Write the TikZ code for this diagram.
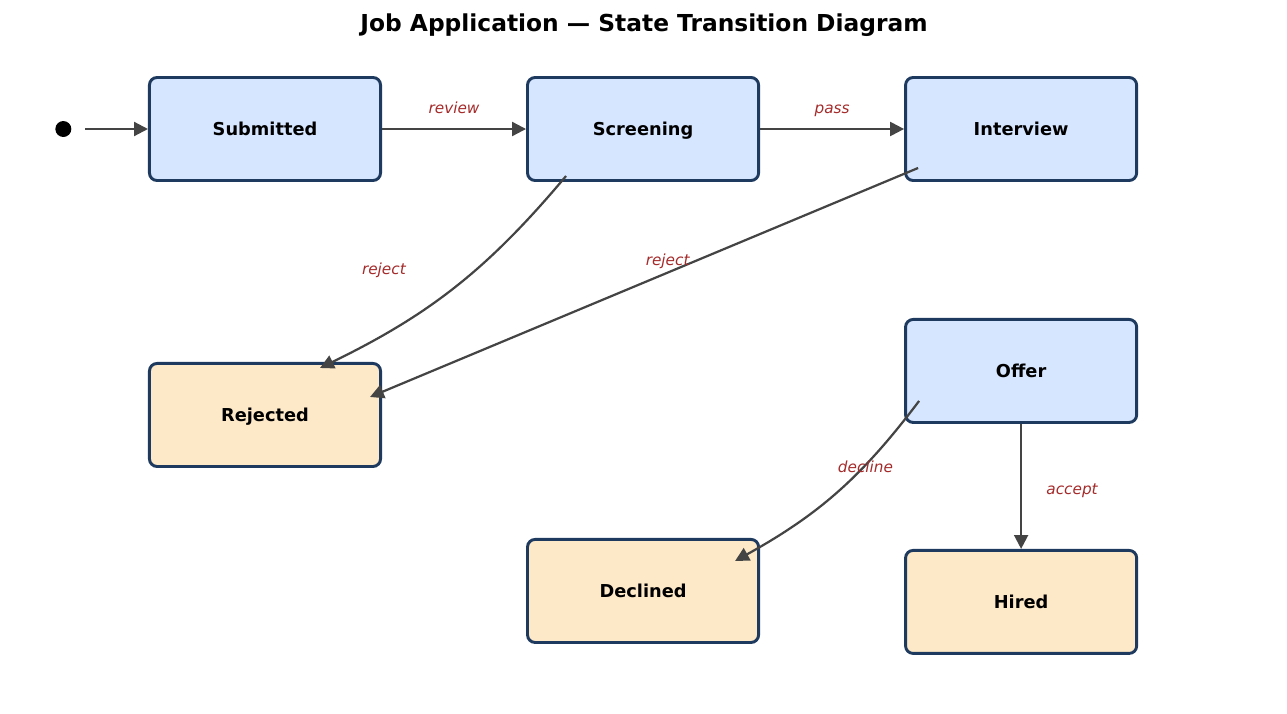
\documentclass[tikz,border=0pt]{standalone}
\usepackage{fontspec}
\setmainfont{DejaVu Sans}
\usepackage{xcolor}
\usetikzlibrary{arrows.meta,positioning,calc}
\definecolor{navy}{HTML}{1F3A5F}
\definecolor{softblue}{HTML}{D6E6FF}
\definecolor{softorange}{HTML}{FDE8C8}
\definecolor{edge}{HTML}{444444}
\definecolor{brick}{HTML}{A52A2A}

\begin{document}
\begin{tikzpicture}[
  x=0.72pt, y=-0.72pt,
  state/.style={draw=navy, line width=2.1pt, rounded corners=5.5pt, minimum width=166.4pt, minimum height=74.2pt, align=center, text height=9.6pt, text depth=0.3pt, font=\fontsize{12.8}{15}\selectfont\bfseries},
  start/.style={circle, fill=black, minimum size=11.5pt, inner sep=0pt},
  arr/.style={-{Triangle[length=10pt, width=10pt]}, line width=1.6pt, edge},
  lbl/.style={font=\fontsize{11}{13}\selectfont\itshape, text=brick, text height=1.6ex, text depth=0.3ex}
]
\useasboundingbox (0,0) rectangle (1287,714);
\node[font=\fontsize{16.8}{20}\selectfont\bfseries] (title) at (644,25) {Job Application — State Transition Diagram};
% states
\node[state, fill=softblue] (sub) at (265,129) {Submitted};
\node[state, fill=softblue, right=103.7pt of sub] (scr) {Screening};
\node[state, fill=softblue, right=103.7pt of scr] (int) {Interview};
\node[state, fill=softorange, below=129.6pt of sub] (rej) {Rejected};
\node[state, fill=softblue, below=97.9pt of int] (off) {Offer};
\node[state, fill=softorange, below=90pt of off] (hir) {Hired};
\node[state, fill=softorange, below=256.3pt of scr] (dec) {Declined};
\node[start, left=55pt of sub] (init) {};
% transitions
\draw[arr, shorten <=10pt] (init) -- (sub);
\draw[arr] (sub.east) -- (scr.west) node[lbl, midway, yshift=14.5pt] {review};
\draw[arr] (scr.east) -- (int.west) node[lbl, midway, yshift=14.5pt] {pass};
\draw[arr] ($(scr.south)+(-77,-6)$) to[bend left=12] node[lbl, midway, xshift=-51pt, yshift=12.5pt] {reject} ($(rej.north)+(55,6)$);
\draw[arr] ($(int.south west)+(14,-14)$) -- node[lbl, midway, xshift=17pt, yshift=16pt] {reject} ($(rej.east)+(-12,-18)$);
\draw[arr] ($(off.south west)+(15,-23)$) to[bend left=12] node[lbl, midway, xshift=20.6pt, yshift=17.7pt] {decline} ($(dec.north east)+(-25,23)$);
\draw[arr] (off.south) -- node[lbl, midway, xshift=36.7pt, yshift=-2pt] {accept} (hir.north);
\end{tikzpicture}
\end{document}
